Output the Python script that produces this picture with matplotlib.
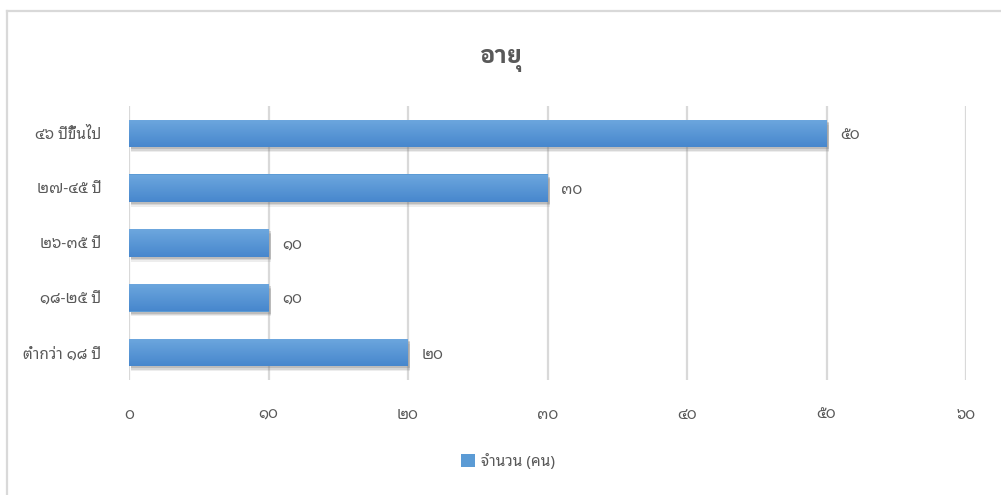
import numpy as np
import matplotlib
matplotlib.use("Agg")
import matplotlib.pyplot as plt
from matplotlib.lines import Line2D
from matplotlib.patches import Patch

plt.rcParams["font.family"] = ["Noto Sans Thai Looped", "DejaVu Sans"]

# ---- datos ----
categories = ["ต่ำกว่า ๑๘ ปี", "๑๘-๒๕ ปี", "๒๖-๓๕ ปี", "๒๗-๔๕ ปี", "๔๖ ปีขึ้นไป"]
values = [20, 10, 10, 30, 50]
value_labels = ["๒๐", "๑๐", "๑๐", "๓๐", "๕๐"]
x_ticks = [0, 10, 20, 30, 40, 50, 60]
x_tick_labels = ["๐", "๑๐", "๒๐", "๓๐", "๔๐", "๕๐", "๖๐"]
title = "อายุ"
series_name = "จำนวน (คน)"

TXT = "#595959"
GRID = "#d9d9d9"
BAR = "#5b9bd5"

fig = plt.figure(figsize=(10.01, 4.95), dpi=100)
fig.patch.set_facecolor("white")

# marco del grafico (solo izquierda y arriba visibles)
fig.add_artist(Line2D([7 / 1001, 7 / 1001], [0, 1 - 11 / 495], color=GRID, lw=1.6))
fig.add_artist(Line2D([7 / 1001, 1], [1 - 11 / 495, 1 - 11 / 495], color=GRID, lw=1.6))

ax = fig.add_axes([129 / 1001, 1 - 380 / 495, (966 - 129) / 1001, (380 - 106) / 495])

y = np.arange(len(categories))
h = 0.5

# sombra difusa bajo cada barra
for dy, a in [(-0.09, 0.12), (-0.065, 0.18), (-0.04, 0.25)]:
    ax.barh(y + dy, values, height=h, left=0.15, color="#707070", alpha=a,
            zorder=2, linewidth=0)

bars = ax.barh(y, values, height=h, color=BAR, zorder=3, linewidth=0)

# degradado vertical en cada barra
grad = np.linspace(0, 1, 64).reshape(-1, 1)
cmap = matplotlib.colors.LinearSegmentedColormap.from_list("g", ["#4787cd", "#6da7de"])
for b in bars:
    x0, y0 = b.get_x(), b.get_y()
    im = ax.imshow(grad, extent=[x0, x0 + b.get_width(), y0, y0 + b.get_height()],
                   origin="lower", cmap=cmap, aspect="auto", zorder=4)
    im.set_clip_path(b)

for yi, v, lab in zip(y, values, value_labels):
    ax.text(v + 1.0, yi - 0.05, lab, va="center", ha="left", color=TXT, fontsize=11)

ax.set_xticks(x_ticks)
ax.set_xticklabels(x_tick_labels)
ax.set_yticks(y)
ax.set_yticklabels(categories)
ax.tick_params(axis="x", length=0, pad=20, labelsize=11, labelcolor=TXT)
ax.tick_params(axis="y", length=0, pad=20, labelsize=11, labelcolor=TXT)
ax.grid(axis="x", color=GRID, lw=1.6, zorder=0)
ax.set_axisbelow(True)
for s in ax.spines.values():
    s.set_visible(False)
ax.set_xlim(0, 60)
ax.set_ylim(-0.5, len(categories) - 0.5)

fig.text(0.5, 1 - 61 / 495, title, ha="center", va="center", color=TXT,
         fontsize=17, fontweight="bold",
         family=["IBM Plex Sans Thai Looped", "Noto Sans Thai Looped", "DejaVu Sans"])

fig.legend(handles=[Patch(facecolor=BAR, edgecolor="none")], labels=[series_name],
           loc="center", bbox_to_anchor=(508 / 1001, 1 - 462 / 495), frameon=False,
           fontsize=11, labelcolor=TXT, handlelength=0.9, handleheight=0.9,
           handletextpad=0.4)

fig.savefig("out.png", dpi=100, facecolor="white")
